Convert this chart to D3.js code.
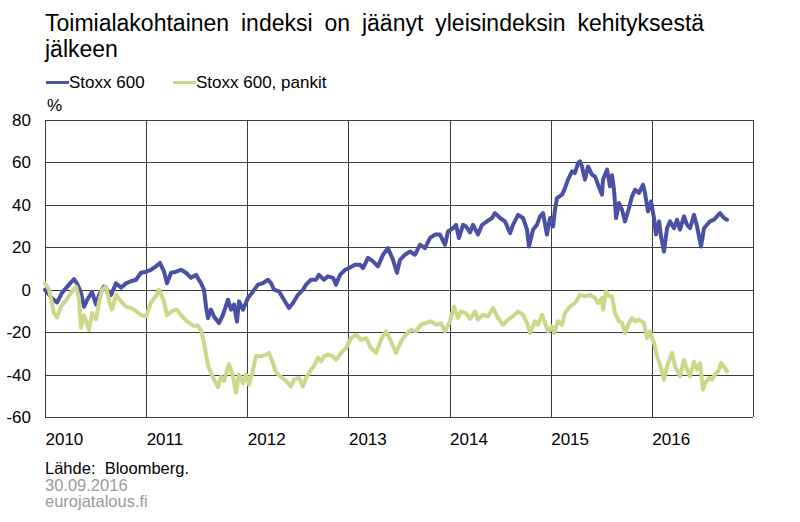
<!DOCTYPE html>
<html><head><meta charset="utf-8">
<script src="https://cdn.jsdelivr.net/npm/d3@7"></script>
<style>
body{margin:0;background:#fff}
svg{display:block}
text{font-family:"Liberation Sans",Arial,sans-serif}
</style>
</head><body>
<svg id="chart" width="800" height="522"></svg>
<script>
const titleLines = ["Toimialakohtainen indeksi on jäänyt yleisindeksin kehityksestä", "jälkeen"];
const seriesNames = ["Stoxx 600", "Stoxx 600, pankit"];
const unitLabel = "%";
const yTicks = [-60, -40, -20, 0, 20, 40, 60, 80];
const xTicks = [2010, 2011, 2012, 2013, 2014, 2015, 2016];
const xTickLabels = ["2010", "2011", "2012", "2013", "2014", "2015", "2016"];
const footerLines = ["Lähde:  Bloomberg.", "30.09.2016", "eurojatalous.fi"];

// Stoxx 600 (time in decimal years, value in %)
const stoxxTime = [
 2010.000,2010.069,2010.119,2010.168,2010.237,2010.287,2010.316,2010.356,2010.386,2010.415,
 2010.465,2010.504,2010.534,2010.583,2010.613,2010.653,2010.702,2010.751,2010.801,2010.850,
 2010.900,2010.949,2011.000,2011.048,2011.097,2011.137,2011.177,2011.206,2011.246,2011.295,
 2011.345,2011.394,2011.444,2011.493,2011.542,2011.572,2011.592,2011.612,2011.641,2011.671,
 2011.720,2011.760,2011.809,2011.839,2011.869,2011.898,2011.918,2011.958,2012.007,2012.057,
 2012.106,2012.155,2012.205,2012.235,2012.264,2012.314,2012.363,2012.412,2012.452,2012.501,
 2012.551,2012.581,2012.630,2012.679,2012.709,2012.759,2012.798,2012.848,2012.877,2012.917,
 2012.966,2013.006,2013.065,2013.114,2013.144,2013.194,2013.243,2013.292,2013.342,2013.391,
 2013.441,2013.480,2013.510,2013.559,2013.609,2013.658,2013.708,2013.757,2013.807,2013.856,
 2013.905,2013.955,2013.985,2014.034,2014.064,2014.093,2014.133,2014.163,2014.202,2014.232,
 2014.281,2014.321,2014.370,2014.420,2014.449,2014.499,2014.548,2014.598,2014.627,2014.677,
 2014.726,2014.766,2014.785,2014.825,2014.864,2014.894,2014.924,2014.963,2014.993,2015.023,
 2015.042,2015.062,2015.112,2015.141,2015.171,2015.211,2015.240,2015.270,2015.290,2015.309,
 2015.339,2015.369,2015.408,2015.438,2015.468,2015.507,2015.517,2015.557,2015.586,2015.606,
 2015.626,2015.646,2015.675,2015.705,2015.735,2015.774,2015.804,2015.834,2015.873,2015.913,
 2015.932,2015.962,2015.992,2016.021,2016.041,2016.071,2016.091,2016.120,2016.150,2016.180,
 2016.219,2016.249,2016.278,2016.318,2016.348,2016.377,2016.417,2016.447,2016.486,2016.516,
 2016.545,2016.575,2016.615,2016.644,2016.674,2016.714,2016.743
];
const stoxxValue = [
 0,-4,-6,-1.5,2.4,5,3,-1.5,-8,-5,
 -1,-7,-2.5,1.5,0,-2.5,3,1,3,4,
 4.7,8,8.5,9.4,11,12.6,8.5,3,8,8.5,
 9.4,8,5.6,7,3.1,0,-8,-13.4,-9.4,-12.6,
 -15.7,-11.8,-4.7,-9.4,-7,-15,-5.5,-9.4,-3.9,-0.8,
 2.4,3.1,4.7,3.1,0,-0.8,-4.7,-8.6,-6.3,-2.4,
 0,2.4,4.7,4.7,7,4.7,6.3,5.6,2.4,7,
 9.4,10.2,11.8,11.8,10.2,15,13.4,11,16.5,19.6,
 14.1,8,14.1,16.5,18,16.5,21.2,19.6,24.4,26,
 26,21.2,27.5,29,30.6,24.4,30.6,29.8,27,30.6,
 26,30.6,32.2,33.8,36.1,33.8,32.2,26.7,30.6,35.3,
 33.8,28.3,20.4,28.3,30.6,34.6,36.1,26,33.8,29.8,
 37.7,43.2,44.8,47.9,51.9,55.8,55,59.7,60.5,58.1,
 51.9,58.1,54.2,53.4,49.5,44.8,51.9,56.6,48.7,54,
 47,33.8,40.9,37.7,32.2,38.5,44,47.1,45.6,49.5,
 45.6,36.9,41.6,33.8,26,32.2,25.1,18,29,32.2,
 29,33,28.3,34.6,30.6,29,35.3,29.8,20.4,29,
 30.6,32.2,33,34.6,36.1,33.8,33
];

// Stoxx 600, pankit
const banksTime = [
 2010.000,2010.040,2010.089,2010.119,2010.158,2010.208,2010.257,2010.307,2010.336,2010.356,
 2010.386,2010.435,2010.465,2010.504,2010.534,2010.564,2010.603,2010.633,2010.662,2010.702,
 2010.751,2010.801,2010.850,2010.900,2010.949,2011.000,2011.048,2011.097,2011.127,2011.177,
 2011.206,2011.256,2011.305,2011.355,2011.394,2011.463,2011.513,2011.542,2011.572,2011.612,
 2011.641,2011.671,2011.711,2011.740,2011.770,2011.819,2011.859,2011.888,2011.918,2011.958,
 2011.987,2012.017,2012.057,2012.086,2012.136,2012.185,2012.215,2012.254,2012.284,2012.333,
 2012.383,2012.432,2012.462,2012.511,2012.551,2012.581,2012.630,2012.660,2012.699,2012.729,
 2012.759,2012.798,2012.848,2012.877,2012.927,2012.976,2013.025,2013.075,2013.124,2013.174,
 2013.223,2013.273,2013.322,2013.372,2013.421,2013.470,2013.520,2013.569,2013.619,2013.668,
 2013.718,2013.767,2013.817,2013.866,2013.915,2013.955,2014.004,2014.044,2014.083,2014.113,
 2014.163,2014.202,2014.252,2014.281,2014.331,2014.380,2014.430,2014.479,2014.528,2014.578,
 2014.627,2014.677,2014.726,2014.766,2014.795,2014.845,2014.874,2014.914,2014.944,2014.973,
 2015.013,2015.033,2015.072,2015.112,2015.141,2015.191,2015.240,2015.290,2015.339,2015.389,
 2015.438,2015.468,2015.507,2015.517,2015.547,2015.576,2015.606,2015.636,2015.675,2015.705,
 2015.735,2015.774,2015.804,2015.834,2015.873,2015.922,2015.952,2015.982,2016.021,2016.051,
 2016.081,2016.120,2016.150,2016.200,2016.229,2016.278,2016.318,2016.348,2016.377,2016.417,
 2016.447,2016.476,2016.506,2016.526,2016.565,2016.595,2016.624,2016.664,2016.684,2016.723,
 2016.743
];
const banksValue = [
 3,0,-11,-13,-8,-5,-1.5,1.5,-4,-18,
 -12,-19,-11,-14,-6,0,1.5,-5,-9.4,-2.5,
 -5.5,-8,-8.6,-10,-12,-12.5,-6,-3,0,-5.5,
 -12,-10,-9.4,-12.5,-14.5,-17,-17,-19,-25,-36,
 -39,-42.4,-46,-41,-43,-35,-41,-48.6,-40,-44,
 -40,-44.8,-37.7,-31.4,-31.4,-30.6,-29.8,-34.6,-39,-41,
 -43,-45.6,-42.4,-41.5,-45.6,-41.5,-37.7,-36,-32,-33.8,
 -31.4,-30.6,-31.4,-33,-29.8,-27.5,-22.8,-21.2,-23.6,-22.8,
 -27.5,-29.8,-23.6,-19.6,-24.4,-29.8,-24.4,-21.2,-18.9,-19.6,
 -16.5,-15.7,-14.9,-16.5,-15.7,-19.6,-14.9,-7.9,-13.4,-10.2,
 -11,-13.8,-10.2,-14.1,-11.8,-12.6,-8.6,-13.4,-16.5,-14.1,
 -12.6,-10.2,-11.8,-15.7,-20.4,-14.9,-16.5,-11.8,-15.7,-19.6,
 -17.3,-20.4,-14.9,-16.5,-11,-7.9,-6.3,-2.4,-3.1,-2.4,
 -3.9,-6.3,-3.9,-9.4,-0.8,-3.1,-3.1,-11,-14.9,-15.7,
 -20.4,-15.7,-13.4,-14.9,-14.1,-15.7,-22.8,-19.6,-25.1,-31.4,
 -35.3,-42.4,-36.1,-29.8,-36.1,-40.9,-33,-37.7,-40.9,-33.8,
 -37.7,-34.6,-47.1,-44,-41.6,-42.4,-40,-37.7,-34.6,-36.9,
 -38.5
];

const colors = ["#4a50a3", "#cdd68b"];
const gridColor = "#3c3c3c";

const svg = d3.select("#chart");
const plot = {left: 45, right: 753, top: 120, bottom: 417};

const x = d3.scaleLinear().domain([2010, 2017]).range([plot.left, plot.right]);
const y = d3.scaleLinear().domain([-60, 80]).range([plot.bottom, plot.top]);

// Title
svg.append("text").attr("x", 45).attr("y", 31)
  .attr("font-size", 23).attr("fill", "#000").style("word-spacing", "5.5px")
  .selectAll("tspan").data(titleLines).join("tspan")
  .attr("x", 45).attr("dy", (d, i) => i === 0 ? 0 : 26).text(d => d);

// Legend
const legendX = [45, 172];
seriesNames.forEach((name, i) => {
  const g = svg.append("g").attr("transform", `translate(${legendX[i]},0)`);
  g.append("line").attr("x1", 1).attr("x2", 24).attr("y1", 82.5).attr("y2", 82.5)
    .attr("stroke", colors[i]).attr("stroke-width", 3);
  g.append("text").attr("x", 24).attr("y", 88).attr("font-size", 17).attr("fill", "#000").text(name);
});

// Unit
svg.append("text").attr("x", 47).attr("y", 111).attr("font-size", 17).attr("fill", "#000").text(unitLabel);

// Horizontal grid
svg.append("g").selectAll("line").data(yTicks).join("line")
  .attr("x1", plot.left).attr("x2", plot.right)
  .attr("y1", d => Math.round(y(d)) + 0.5).attr("y2", d => Math.round(y(d)) + 0.5)
  .attr("stroke", gridColor).attr("stroke-width", 1);

// Vertical grid (year boundaries + right border)
svg.append("g").selectAll("line").data(xTicks.concat([2017])).join("line")
  .attr("x1", d => Math.round(x(d)) + 0.5).attr("x2", d => Math.round(x(d)) + 0.5)
  .attr("y1", plot.top).attr("y2", plot.bottom)
  .attr("stroke", gridColor).attr("stroke-width", 1);

// Y labels
svg.append("g").selectAll("text").data(yTicks).join("text")
  .attr("x", 31).attr("y", d => y(d) + 6).attr("text-anchor", "end")
  .attr("font-size", 17).attr("fill", "#000").text(d => d);

// X labels
svg.append("g").selectAll("text").data(xTicks).join("text")
  .attr("x", d => x(d) + 0.5).attr("y", 445)
  .attr("font-size", 17).attr("fill", "#000").text((d, i) => xTickLabels[i]);

// Lines
const line = d3.line().x(d => x(d[0])).y(d => y(d[1]));
const series = [
  d3.zip(stoxxTime, stoxxValue),
  d3.zip(banksTime, banksValue)
];
series.forEach((data, i) => {
  svg.append("path").datum(data).attr("d", line)
    .attr("fill", "none").attr("stroke", colors[i]).attr("stroke-width", 4)
    .attr("stroke-linejoin", "round").attr("stroke-linecap", "round");
});

// Footer
const footerColors = ["#000", "#9a9a9a", "#9a9a9a"];
svg.append("g").selectAll("text").data(footerLines).join("text")
  .attr("x", 45).attr("y", (d, i) => 474 + i * 16.5)
  .attr("font-size", 16.5).attr("fill", (d, i) => footerColors[i])
  .attr("xml:space", "preserve").style("white-space", "pre").text(d => d);
</script>
</body></html>
